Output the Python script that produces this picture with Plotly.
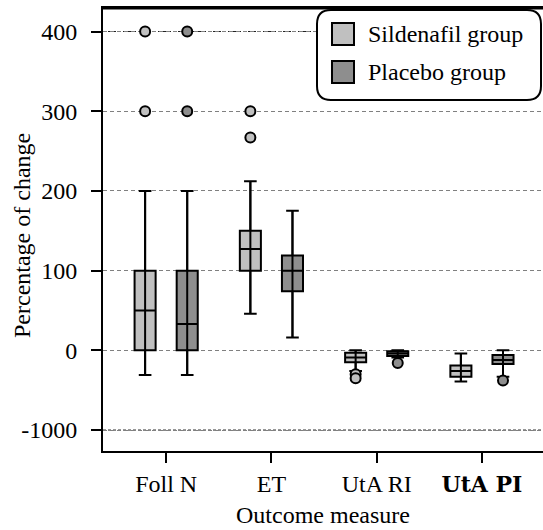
import plotly.graph_objects as go

# ---------------- data ----------------
categories = ["Foll N", "ET", "UtA RI", "UtA PI"]
tick_labels = ["Foll N", "ET", "UtA RI",
               "<span style='font-family:DejaVu Serif;font-size:22px'>"
               "<b>UtA PI</b></span>"]
groups = ["Sildenafil group", "Placebo group"]
x_title = "Outcome measure"
y_title = "Percentage of change"

sil_q1 = [0, 100, -15, -33]
sil_median = [50, 127, -9, -26]
sil_q3 = [100, 150, -3, -19]
sil_low = [-31, 46, -26, -39]
sil_high = [200, 212, 0, -4]
sil_outliers = [[300, 400], [267, 300], [-30, -35], []]

pla_q1 = [0, 74, -7, -17]
pla_median = [33, 100, -4, -12]
pla_q3 = [100, 119, -1, -6]
pla_low = [-31, 16, -9, -33]
pla_high = [200, 175, 0, 0]
pla_outliers = [[300, 400], [], [-16], [-38]]

y_tickvals = [-100, 0, 100, 200, 300, 400]
y_ticktext = ["-1000", "0", "100", "200", "300", "400"]

# ---------------- style ----------------
FONT = "Liberation Serif"
FS = 24
colors = ["#c0c0c0", "#8e8e8e"]
offsets = [-0.2, 0.2]
W, H = 543, 530
L, R, T, B = 103, 0, 8, 79

series = [
    (sil_q1, sil_median, sil_q3, sil_low, sil_high, sil_outliers),
    (pla_q1, pla_median, pla_q3, pla_low, pla_high, pla_outliers),
]

fig = go.Figure()
idx = list(range(len(categories)))

for g, (q1, med, q3, lo, hi, outs) in enumerate(series):
    xs = [i + offsets[g] for i in idx]
    fig.add_trace(go.Box(
        x=xs, q1=q1, median=med, q3=q3, lowerfence=lo, upperfence=hi,
        width=0.2, whiskerwidth=0.6, fillcolor=colors[g],
        line=dict(color="black", width=2), boxpoints=False,
        name=groups[g], showlegend=False, hoverinfo="skip"))
    wx, wy = [], []
    for i in idx:
        wx += [xs[i], xs[i], None]
        wy += [lo[i], hi[i], None]
    fig.add_trace(go.Scatter(x=wx, y=wy, mode="lines",
                             line=dict(color="black", width=2),
                             showlegend=False, hoverinfo="skip"))
    ox, oy = [], []
    for i in idx:
        for v in outs[i]:
            ox.append(xs[i])
            oy.append(v)
    fig.add_trace(go.Scatter(x=ox, y=oy, mode="markers",
                             marker=dict(size=10, color=colors[g],
                                         line=dict(color="black", width=2)),
                             showlegend=False, hoverinfo="skip"))

# ---------------- manual legend & decorations ----------------
pw, ph = W - L - R, H - T - B


def px(xp):
    return (xp - L) / pw


def py(yp):
    return (H - B - yp) / ph


shapes = []
for v in (y_tickvals[0], y_tickvals[-1]):
    shapes.append(dict(type="line", xref="paper", yref="y", x0=0, x1=1,
                       y0=v, y1=v, layer="below",
                       line=dict(color="#222", width=1, dash="3px,2px")))
# thicker top frame
shapes.append(dict(type="line", xref="paper", yref="paper", x0=-0.002, x1=1,
                   y0=1, y1=1, layer="above",
                   line=dict(color="black", width=3)))

x0, x1, y0, y1, r = 317, 541, 10, 100, 14
path = (f"M{px(x0 + r)},{py(y0)} L{px(x1 - r)},{py(y0)} "
        f"Q{px(x1)},{py(y0)} {px(x1)},{py(y0 + r)} "
        f"L{px(x1)},{py(y1 - r)} Q{px(x1)},{py(y1)} {px(x1 - r)},{py(y1)} "
        f"L{px(x0 + r)},{py(y1)} Q{px(x0)},{py(y1)} {px(x0)},{py(y1 - r)} "
        f"L{px(x0)},{py(y0 + r)} Q{px(x0)},{py(y0)} {px(x0 + r)},{py(y0)} Z")
shapes.append(dict(type="path", xref="paper", yref="paper", path=path,
                   fillcolor="white", line=dict(color="black", width=2),
                   layer="above"))
annotations = []
rows = [34, 72]
for g in range(2):
    cy = rows[g]
    shapes.append(dict(type="rect", xref="paper", yref="paper",
                       x0=px(332), x1=px(354), y0=py(cy - 11), y1=py(cy + 11),
                       fillcolor=colors[g], line=dict(color="black", width=2),
                       layer="above"))
    annotations.append(dict(xref="paper", yref="paper", x=px(366), y=py(cy),
                            xanchor="left", yanchor="middle", showarrow=False,
                            text=groups[g],
                            font=dict(family=FONT, size=FS, color="black")))
# y-axis title
annotations.append(dict(xref="paper", yref="paper", x=px(22), y=py(236),
                        xanchor="center", yanchor="middle", textangle=-90,
                        showarrow=False, text=y_title,
                        font=dict(family=FONT, size=FS, color="black")))

fig.update_layout(
    width=W, height=H,
    margin=dict(l=L, r=R, t=T, b=B, autoexpand=False),
    paper_bgcolor="white", plot_bgcolor="white",
    font=dict(family=FONT, size=FS, color="black"),
    showlegend=False,
    shapes=shapes, annotations=annotations,
    xaxis=dict(
        range=[-0.6, 3.58], tickvals=idx, ticktext=tick_labels,
        tickangle=0,
        showline=True, linewidth=2, linecolor="black", mirror=True,
        ticks="outside", ticklen=10, tickwidth=2, tickcolor="black",
        ticklabeloverflow="allow",
        showgrid=False, zeroline=False,
        tickfont=dict(family=FONT, size=FS),
        title=dict(text=x_title, standoff=10,
                   font=dict(family=FONT, size=FS)),
    ),
    yaxis=dict(
        range=[-126.3, 429.5], tickvals=y_tickvals, ticktext=y_ticktext,
        showline=True, linewidth=2, linecolor="black",
        ticks="outside", ticklen=10, tickwidth=2, tickcolor="black",
        ticklabelstandoff=9,
        showgrid=True, gridcolor="#808080", griddash="4px,3px", gridwidth=1,
        zeroline=False,
        tickfont=dict(family=FONT, size=FS),
    ),
)

fig.write_html("out.html", config={"displayModeBar": False},
               post_script="document.body.style.margin='0';")
